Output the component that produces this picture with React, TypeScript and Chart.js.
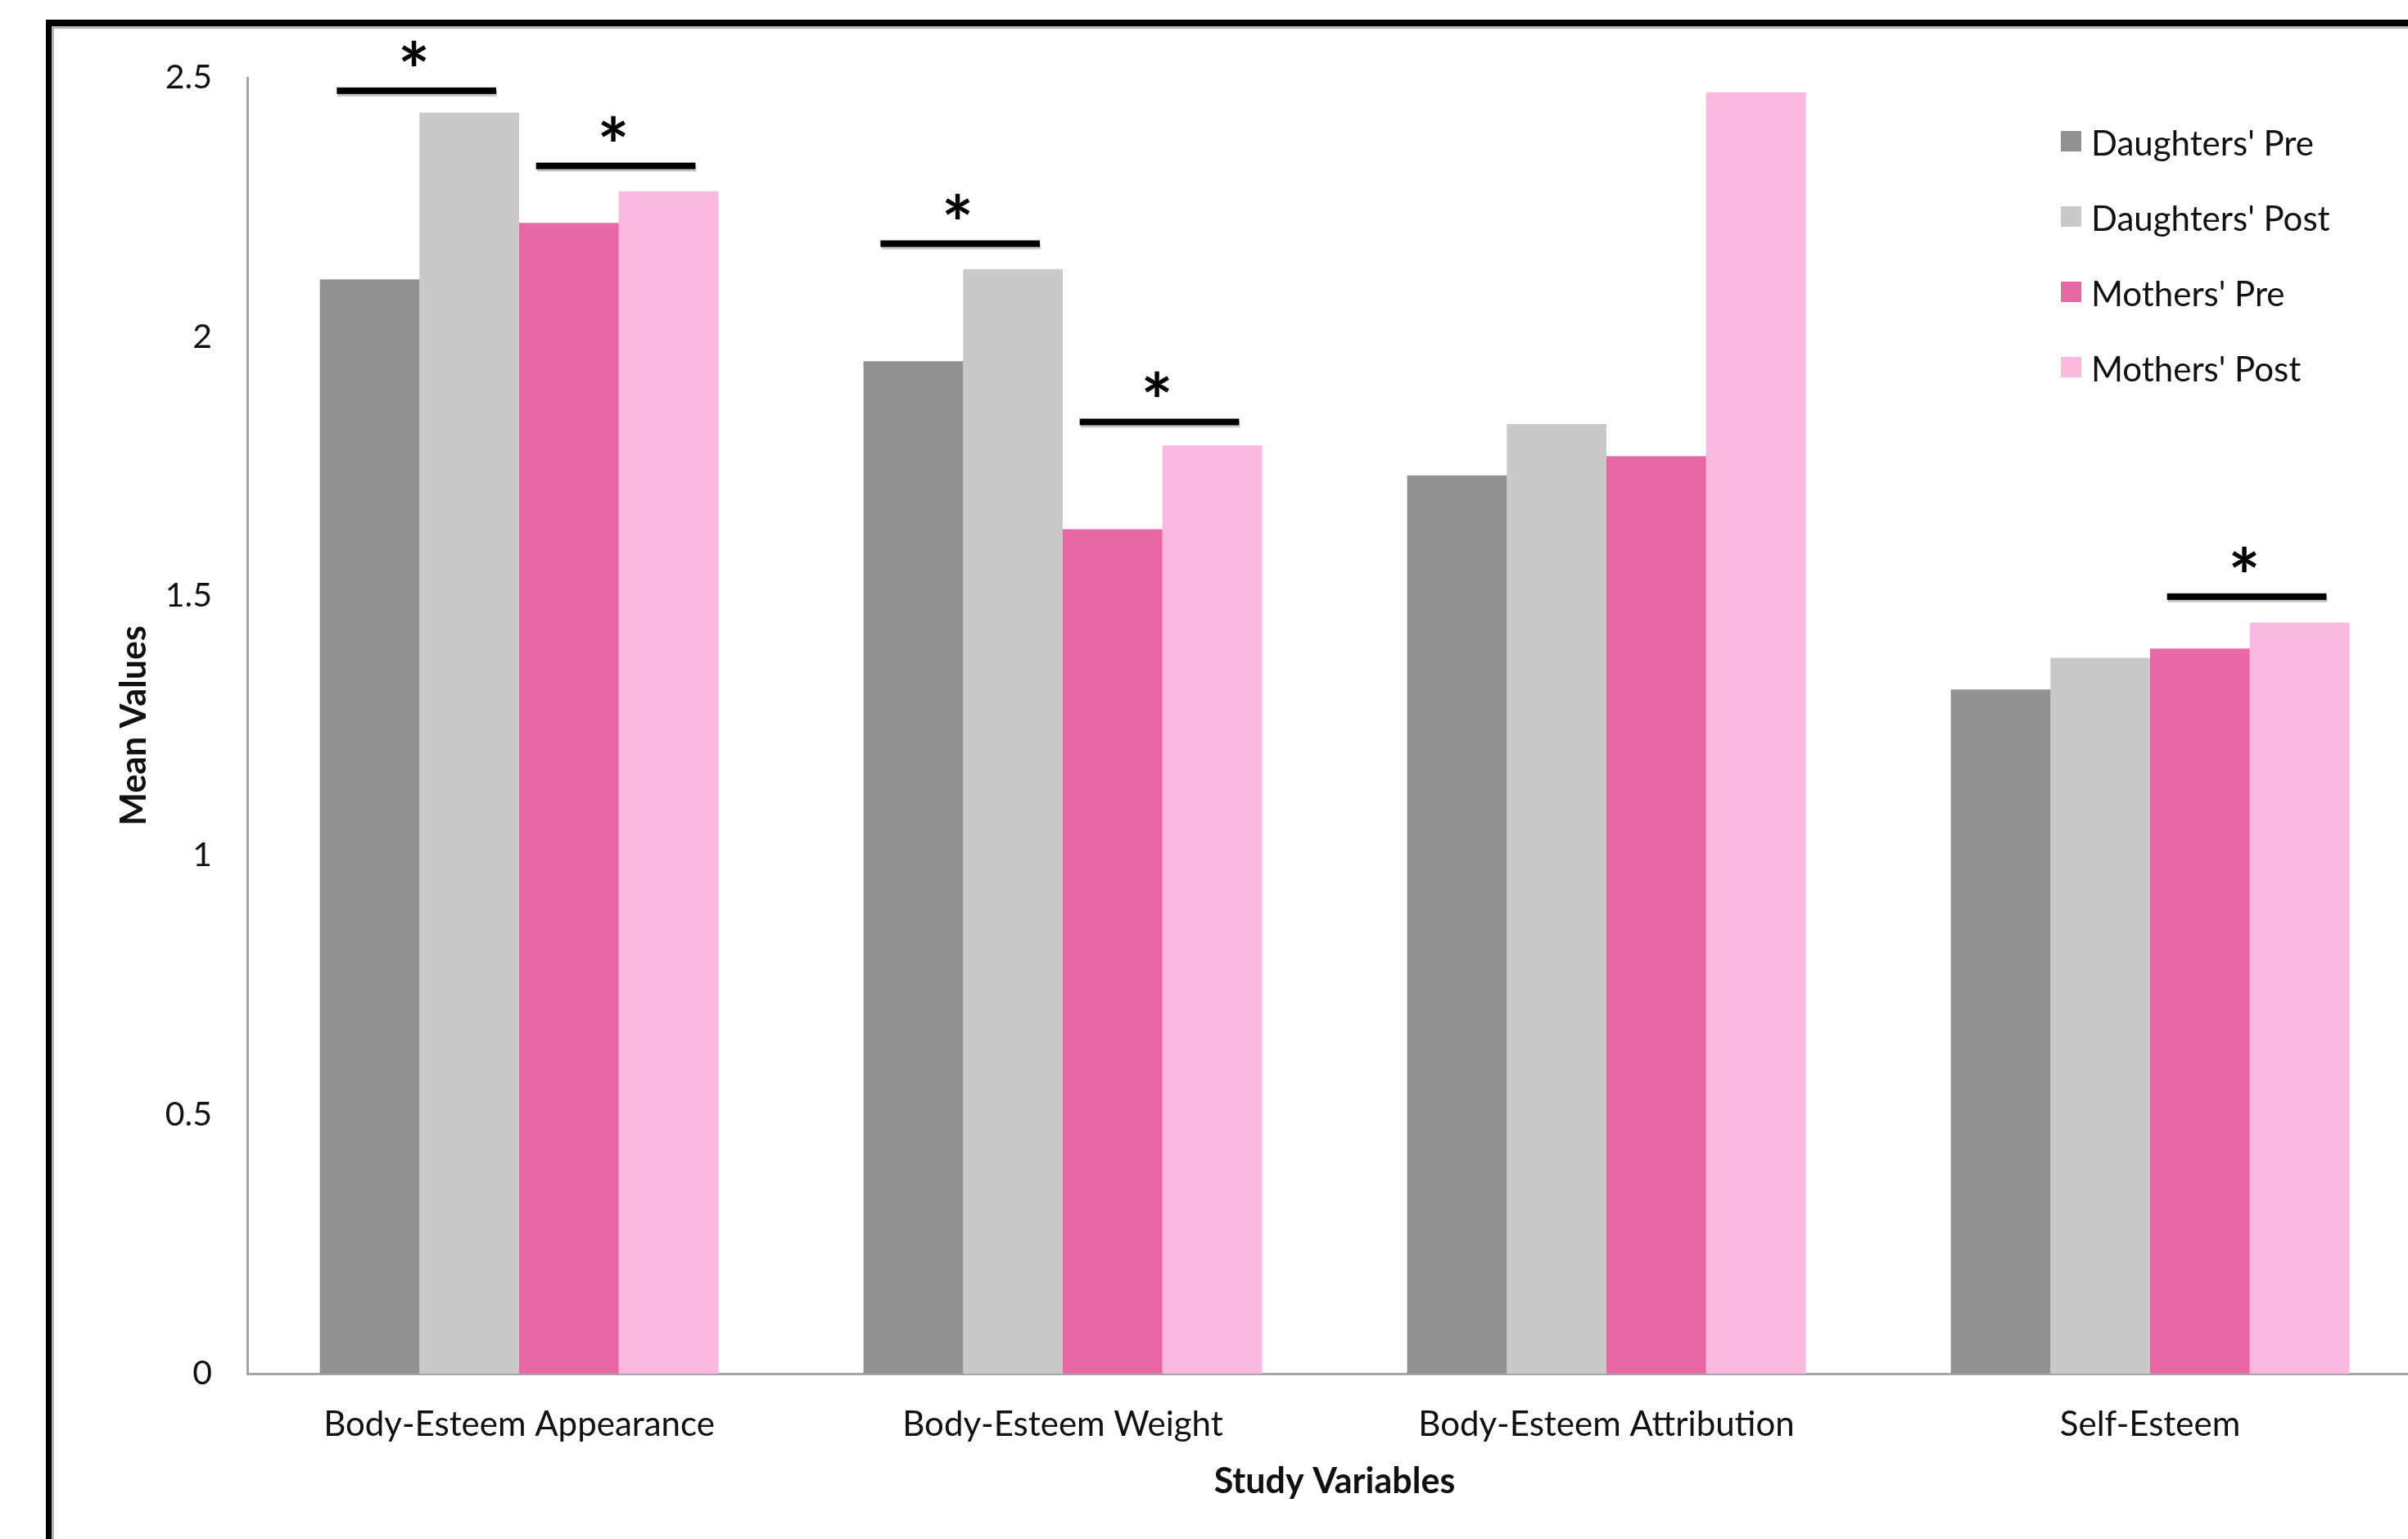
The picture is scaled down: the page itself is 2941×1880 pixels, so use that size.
import React, { useEffect, useRef } from "react";
import { Chart, registerables } from "chart.js";

Chart.register(...registerables);

const categories = [
  "Body-Esteem Appearance",
  "Body-Esteem Weight",
  "Body-Esteem Attribution",
  "Self-Esteem",
];
const seriesNames = ["Daughters' Pre", "Daughters' Post", "Mothers' Pre", "Mothers' Post"];
const daughtersPre = [2.111, 1.953, 1.733, 1.32];
const daughtersPost = [2.433, 2.131, 1.832, 1.381];
const mothersPre = [2.22, 1.629, 1.77, 1.399];
const mothersPost = [2.281, 1.791, 2.472, 1.449];
const seriesColors = ["#919191", "#c9c9c9", "#e868a6", "#fbb9df"];
const yTicks = [0, 0.5, 1, 1.5, 2, 2.5];

// significance markers: category index, first/second series, level of the bar line
const sigCategory = [0, 0, 1, 1, 3];
const sigFrom = [0, 2, 0, 2, 2];
const sigTo = [1, 3, 1, 3, 3];
const sigLevel = [2.475, 2.33, 2.18, 1.836, 1.499];
const sigText = ["*", "*", "*", "*", "*"];

const FONT = "Lato, 'Open Sans', sans-serif";

const decorPlugin = {
  id: "decor",
  beforeDraw(chart: any) {
    const ctx = chart.ctx;
    ctx.save();
    ctx.fillStyle = "#ffffff";
    ctx.fillRect(0, 0, chart.width, chart.height);
    // outer frame (top and left visible)
    ctx.fillStyle = "#b5b5b5";
    ctx.fillRect(63, 32, chart.width, 3);
    ctx.fillRect(63, 32, 3, chart.height);
    ctx.fillStyle = "#000000";
    ctx.fillRect(56, 24, chart.width, 8);
    ctx.fillRect(56, 24, 7, chart.height);
    ctx.restore();
  },
  afterDatasetsDraw(chart: any) {
    const ctx = chart.ctx;
    const yScale = chart.scales.y;
    ctx.save();
    for (let k = 0; k < sigCategory.length; k++) {
      const a = chart.getDatasetMeta(sigFrom[k]).data[sigCategory[k]];
      const b = chart.getDatasetMeta(sigTo[k]).data[sigCategory[k]];
      const w = a.width;
      const x1 = a.x - 0.33 * w;
      const x2 = b.x + 0.27 * w;
      const y = yScale.getPixelForValue(sigLevel[k]);
      ctx.fillStyle = "rgba(0,0,0,0.22)";
      ctx.fillRect(x1 + 1, y - 4 + 3, x2 - x1, 8);
      ctx.fillStyle = "#000000";
      ctx.fillRect(x1, y - 4, x2 - x1, 8);
      ctx.font = "bold 92px " + FONT;
      ctx.textAlign = "center";
      ctx.textBaseline = "alphabetic";
      const m = ctx.measureText(sigText[k]);
      const cy = y - 46;
      const by = cy + (m.actualBoundingBoxAscent - m.actualBoundingBoxDescent) / 2;
      ctx.fillText(sigText[k], (x1 + x2) / 2 - 3, by);
    }
    ctx.restore();
  },
  afterDraw(chart: any) {
    const ctx = chart.ctx;
    ctx.save();
    const x0 = 2517;
    const y0 = 174;
    const step = 92;
    ctx.font = "42px " + FONT;
    ctx.textAlign = "left";
    ctx.textBaseline = "middle";
    chart.data.datasets.forEach((ds: any, i: number) => {
      const cy = y0 + i * step;
      ctx.fillStyle = ds.backgroundColor;
      ctx.fillRect(x0, cy - 14, 25, 25);
      ctx.fillStyle = "#111111";
      ctx.fillText(ds.label, x0 + 37, cy + 2);
    });
    ctx.restore();
  },
};

export default function App() {
  const ref = useRef<HTMLCanvasElement | null>(null);
  useEffect(() => {
    if (!ref.current) return;
    const seriesValues = [daughtersPre, daughtersPost, mothersPre, mothersPost];
    const chart = new Chart(ref.current, {
      type: "bar",
      data: {
        labels: categories,
        datasets: seriesNames.map((name, i) => ({
          label: name,
          data: seriesValues[i],
          backgroundColor: seriesColors[i],
          borderWidth: 0,
          categoryPercentage: 0.733,
          barPercentage: 1.0,
        })),
      },
      options: {
        responsive: false,
        animation: false,
        devicePixelRatio: 1,
        layout: { padding: { top: 95, left: 0, right: 0, bottom: 0 } },
        plugins: {
          legend: { display: false },
          tooltip: { enabled: false },
          title: { display: false },
        },
        scales: {
          x: {
            grid: { display: false, drawTicks: false },
            border: { display: true, color: "#a6a6a6", width: 3 },
            ticks: {
              color: "#111111",
              font: { family: FONT, size: 42 },
              padding: 37,
              maxRotation: 0,
              autoSkip: false,
            },
            title: {
              display: true,
              text: "Study Variables",
              color: "#111111",
              font: { family: FONT, size: 43, weight: "bold" },
              padding: { top: 0, bottom: 44 },
            },
            afterFit(scale: any) {
              scale.height = 202;
            },
          },
          y: {
            min: 0,
            max: 2.5,
            grid: { display: false, drawTicks: false },
            border: { display: true, color: "#a6a6a6", width: 3 },
            afterBuildTicks(scale: any) {
              scale.ticks = yTicks.map((v) => ({ value: v }));
            },
            ticks: {
              color: "#111111",
              font: { family: FONT, size: 41 },
              padding: 43,
              callback: (v: any) => String(v),
            },
            title: {
              display: true,
              text: "Mean Values",
              color: "#111111",
              font: { family: FONT, size: 43, weight: "bold" },
              padding: { top: 138, bottom: 0 },
            },
            afterFit(scale: any) {
              scale.width = 302;
            },
          },
        },
      },
      plugins: [decorPlugin],
    });
    return () => chart.destroy();
  }, []);
  return (
    <div
      style={{
        position: "fixed",
        left: 0,
        top: 0,
        width: "100vw",
        height: "100vh",
        overflow: "hidden",
        background: "#ffffff",
      }}
    >
      <canvas ref={ref} width={2958} height={1880} style={{ display: "block", width: 2958, height: 1880 }} />
    </div>
  );
}
